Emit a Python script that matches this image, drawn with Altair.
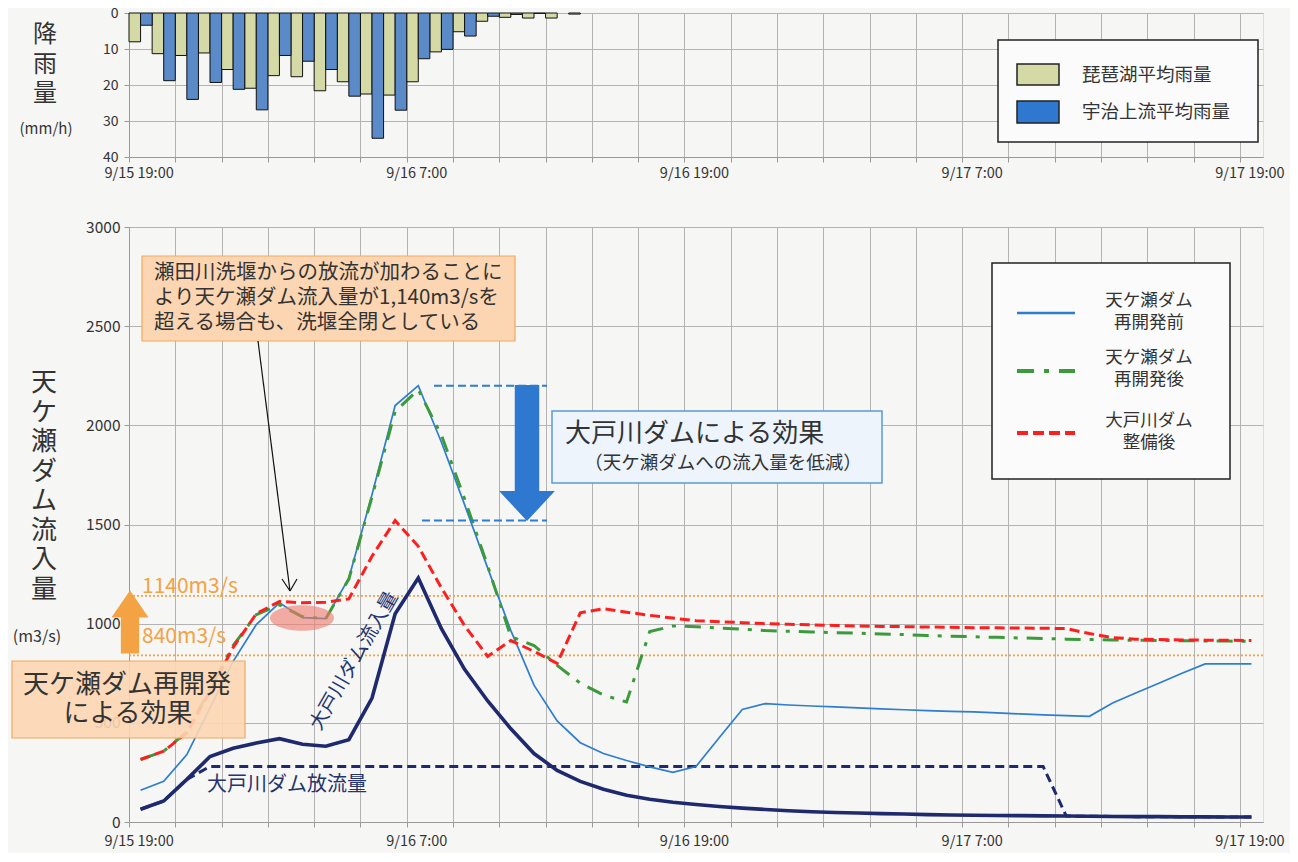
import altair as alt
import pandas as pd

FONT = "Noto Sans CJK JP"

# ---------------- data ----------------
# top: hourly rainfall (mm/h), hour 0 = 9/15 19:00
rain_hours = list(range(20))
biwa_rain = [8.0, 11.3, 11.8, 11.1, 15.7, 20.9, 17.4, 17.7, 21.6, 19.1,
             22.5, 22.8, 19.1, 10.8, 5.2, 2.3, 1.2, 1.4, 1.4, 0.3]
uji_rain = [3.4, 18.8, 24.0, 19.3, 21.2, 26.9, 11.8, 13.4, 15.7, 23.1,
            34.8, 27.0, 12.7, 10.1, 6.4, 0.9, 0.4, 0.1, 0.0, 0.0]

# bottom: inflow (m3/s), hourly from 9/15 19:00 to 9/17 19:00
hours = list(range(49))
before = [160, 205, 340, 575, 810, 995, 1105, 1030, 1025, 1230,
          1650, 2100, 2200, 1915, 1600, 1280, 965, 690, 510, 400,
          345, 310, 278, 250, 280, 425, 567, 597, 590, 585,
          580, 575, 570, 566, 562, 558, 555, 550, 545, 540,
          536, 533, 600, 650, 700, 750, 797, 797, 797]
after = [315, 357, 455, 670, 890, 1045, 1095, 1035, 1025, 1225,
         1640, 2070, 2180, 1950, 1630, 1290, 935, 890, 790, 700,
         640, 605, 960, 988, 985, 978, 972, 965, 962, 958,
         955, 952, 948, 945, 940, 937, 934, 931, 928, 925,
         922, 920, 918, 916, 915, 914, 913, 912, 911]
ohto = [315, 357, 450, 660, 880, 1050, 1112, 1105, 1108, 1125,
        1340, 1520, 1390, 1180, 990, 835, 915, 860, 800, 1055,
        1075, 1058, 1042, 1028, 1015, 1010, 1005, 1000, 997, 994,
        991, 988, 986, 985, 983, 982, 980, 979, 978, 977,
        975, 950, 930, 922, 920, 918, 917, 916, 915]
inflow = [64, 106, 215, 330, 372, 398, 420, 392, 382, 415,
          625, 1050, 1230, 975, 770, 610, 470, 345, 260, 205,
          165, 135, 115, 100, 88, 78, 70, 63, 57, 52,
          48, 45, 42, 40, 37, 35, 34, 33, 32, 31,
          30, 29, 28, 27, 27, 26, 26, 25, 25]
release = [64, 106, 215, 280, 280, 280, 280, 280, 280, 280,
           280, 280, 280, 280, 280, 280, 280, 280, 280, 280,
           280, 280, 280, 280, 280, 280, 280, 280, 280, 280,
           280, 280, 280, 280, 280, 280, 280, 280, 280, 280,
           30, 29, 28, 27, 27, 26, 26, 25, 25]

thresholds = [1140, 840]
effect_levels = [2200, 1520]

tick_hours = [0, 12, 24, 36, 48]
tick_labels = ["9/15 19:00", "9/16 7:00", "9/16 19:00", "9/17 7:00", "9/17 19:00"]
flow_ticks = [0, 500, 1000, 1500, 2000, 2500, 3000]
rain_ticks = [0, 10, 20, 30, 40]

# ---------------- helpers ----------------
W = 1134
HT = 144
HB = 595
half_hour_px = W / 49 / 2

dummy = pd.DataFrame({"d": [0]})
grid_vals = [2 * k - 0.5 for k in range(25)]
label_expr = " : ".join(
    [f"datum.value == {h - 0.5} ? '{t}'" for h, t in zip(tick_hours, tick_labels)]
) + " : ''"

xscale = alt.Scale(domain=[-0.5, 48.5], nice=False, zero=False)


def xaxis(pad):
    return alt.Axis(values=grid_vals, grid=True, gridColor="#b3b3b3", gridWidth=1,
                    labelExpr=label_expr, labelOffset=half_hour_px - 2, labelFlush=False,
                    labelOverlap=False, labelFontSize=14.5, labelColor="#333333",
                    labelPadding=pad, tickSize=5, tickColor="#999999",
                    domainColor="#999999", title=None)


def text_mark(txt, x, y, size, color="#333333", align="center", baseline="middle",
              angle=0, line_height=None):
    kw = dict(text=txt, align=align, baseline=baseline, fontSize=size,
              color=color, font=FONT)
    if angle:
        kw["angle"] = angle
    if line_height:
        kw["lineHeight"] = line_height
    return alt.Chart(dummy).mark_text(**kw).encode(x=alt.value(x), y=alt.value(y))


def rect_mark(x1, x2, y1, y2, fill, stroke=None, sw=1.0, opacity=1.0):
    kw = dict(fill=fill, fillOpacity=opacity)
    if stroke:
        kw.update(stroke=stroke, strokeWidth=sw)
    return alt.Chart(dummy).mark_rect(**kw).encode(
        x=alt.value(x1), x2=alt.value(x2), y=alt.value(y1), y2=alt.value(y2))


def seg(x1, y1, x2, y2, color, width=1.0, dash=None):
    kw = dict(color=color, strokeWidth=width)
    if dash:
        kw["strokeDash"] = dash
    return alt.Chart(dummy).mark_rule(**kw).encode(
        x=alt.value(x1), y=alt.value(y1), x2=alt.value(x2), y2=alt.value(y2))


def shape_mark(path, x, y, size, color, opacity=1.0):
    return alt.Chart(dummy).mark_point(shape=path, filled=True, color=color, size=size,
                                       opacity=opacity, strokeWidth=0).encode(
        x=alt.value(x), y=alt.value(y))


# ---------------- top chart (rainfall) ----------------
rain_df = pd.DataFrame({"h": rain_hours, "biwa": biwa_rain, "uji": uji_rain})
rain_df["b0"] = rain_df["h"] - 0.5
rain_df["b1"] = rain_df["h"]
rain_df["u0"] = rain_df["h"]
rain_df["u1"] = rain_df["h"] + 0.5

ytop_axis = alt.Axis(values=rain_ticks, grid=True, gridColor="#b3b3b3", tickSize=5,
                     tickColor="#999999", domainColor="#999999", labelFontSize=14,
                     labelColor="#333333", labelPadding=6, title=None)
ytop_scale = alt.Scale(domain=[0, 40], reverse=True, nice=False)

BIWA_COL = "#d5d9a6"
UJI_COL = "#5a8ac8"

biwa_bars = alt.Chart(rain_df).transform_filter("datum.biwa > 0").mark_rect(
    color=BIWA_COL, stroke="#111111", strokeWidth=1).encode(
    x=alt.X("b0:Q", scale=xscale, axis=xaxis(4)), x2="b1:Q",
    y=alt.Y("biwa:Q", scale=ytop_scale, axis=ytop_axis), y2=alt.datum(0))
uji_bars = alt.Chart(rain_df).transform_filter("datum.uji > 0").mark_rect(
    color=UJI_COL, stroke="#111111", strokeWidth=1).encode(
    x=alt.X("u0:Q", scale=xscale, axis=xaxis(4)), x2="u1:Q",
    y=alt.Y("uji:Q", scale=ytop_scale, axis=ytop_axis), y2=alt.datum(0))

top_layers = [
    biwa_bars, uji_bars,
    # legend
    rect_mark(869, 1129, 27, 129, "#fbfbfb", "#222222", 1.5),
    rect_mark(888, 930, 51, 72, BIWA_COL, "#222222", 1.5),
    rect_mark(888, 930, 88, 110, "#2f78cf", "#222222", 1.5),
    text_mark("琵琶湖平均雨量", 953, 62, 18.5, align="left"),
    text_mark("宇治上流平均雨量", 953, 99, 18.5, align="left"),
    # y title (first line position; following lines stack below)
    text_mark(["降", "雨", "量"], -84, 22, 24, line_height=29.5),
    text_mark("(mm/h)", -83, 116, 15),
]
top = alt.layer(*top_layers).properties(width=W, height=HT)

# ---------------- bottom chart (inflow) ----------------
def series_df(vals):
    return pd.DataFrame({"hour": hours, "value": vals})


xb = alt.X("hour:Q", scale=xscale, axis=xaxis(7))
yb = alt.Y("value:Q", scale=alt.Scale(domain=[0, 3000], nice=False),
           axis=alt.Axis(values=flow_ticks, format="d", grid=True, gridColor="#b3b3b3",
                         tickSize=5, tickColor="#999999", domainColor="#999999",
                         labelFontSize=15.5, labelColor="#333333", labelPadding=4,
                         title=None))

NAVY = "#1f2a6e"
BLUE = "#2e7dd0"
GREEN = "#3c9a3c"
RED = "#ff1e1e"
ORANGE = "#f3a244"
ORANGE_FILL = "#fcd6b2"
ORANGE_EDGE = "#f2a860"

thr_df = pd.DataFrame({"value": thresholds})
eff_df = pd.DataFrame({"value": effect_levels, "x1": [305, 293], "x2": [418, 418]})

thr_rules = alt.Chart(thr_df).mark_rule(color=ORANGE, strokeWidth=1.6,
                                        strokeDash=[2, 2]).encode(y=yb)

line_release = alt.Chart(series_df(release)).mark_line(
    color=NAVY, strokeWidth=3, strokeDash=[9, 5]).encode(x=xb, y=yb)
line_inflow = alt.Chart(series_df(inflow)).mark_line(
    color=NAVY, strokeWidth=3.6).encode(x=xb, y=yb)
line_before = alt.Chart(series_df(before)).mark_line(
    color=BLUE, strokeWidth=1.7).encode(x=xb, y=yb)
line_after = alt.Chart(series_df(after)).mark_line(
    color=GREEN, strokeWidth=3, strokeDash=[16, 9, 4, 9]).encode(x=xb, y=yb)
line_ohto = alt.Chart(series_df(ohto)).mark_line(
    color=RED, strokeWidth=3, strokeDash=[10, 5]).encode(x=xb, y=yb)

eff_rules = alt.Chart(eff_df).mark_rule(color=BLUE, strokeWidth=2,
                                        strokeDash=[8, 4]).encode(
    y=yb, x=alt.X("x1:Q", scale=None), x2="x2:Q")

DOWN_ARROW = "M -0.18 -1 L 0.18 -1 L 0.18 0.56 L 0.41 0.56 L 0 1 L -0.41 0.56 L -0.18 0.56 Z"
UP_ARROW = "M 0 -1 L 0.59 -0.14 L 0.29 -0.14 L 0.29 1 L -0.29 1 L -0.29 -0.14 L -0.59 -0.14 Z"
ELLIPSE = "M -1 0 A 1 0.4 0 1 0 1 0 A 1 0.4 0 1 0 -1 0 Z"

bottom_layers = [
    thr_rules,
    line_release, line_inflow, line_before, line_after, line_ohto,
    # Ohto dam effect
    eff_rules,
    shape_mark(DOWN_ARROW, 398, 226, 136 * 136, "#2f78cf"),
    rect_mark(423, 753, 184, 256, "#edf4fb", "#5a9bd5", 1.5),
    text_mark("大戸川ダムによる効果", 436, 207, 26, align="left"),
    text_mark("（天ケ瀬ダムへの流入量を低減）", 594, 236, 18.5),
    # callout
    rect_mark(13, 386, 29, 114, ORANGE_FILL, ORANGE_EDGE, 1.2),
    text_mark("瀬田川洗堰からの放流が加わることに", 25, 46, 20.5, align="left"),
    text_mark("より天ケ瀬ダム流入量が1,140m3/sを", 25, 71, 20.5, align="left"),
    text_mark("超える場合も、洗堰全閉としている", 25, 96, 20.5, align="left"),
    seg(129, 114, 161, 364, "#111111", 1.2),
    seg(153, 352, 161, 364, "#111111", 1.2),
    seg(168, 352, 161, 364, "#111111", 1.2),
    shape_mark(ELLIPSE, 173, 391, 64 * 64, "#f07a6a", 0.6),
    # redevelopment effect
    shape_mark(UP_ARROW, 1, 395, 63 * 63, ORANGE),
    text_mark("1140m3/s", 13, 360, 21, color=ORANGE, align="left"),
    text_mark("840m3/s", 13, 410, 21, color=ORANGE, align="left"),
    rect_mark(-117, 116, 434, 511, ORANGE_FILL, ORANGE_EDGE, 1.2, 0.9),
    text_mark("天ケ瀬ダム再開発", -2, 458, 26),
    text_mark("による効果", -1, 487, 26),
    # series labels
    text_mark("大戸川ダム流入量", 225, 434, 19.5, color="#26346e", angle=300),
    text_mark("大戸川ダム放流量", 158, 558, 20, color="#26346e"),
    # legend
    rect_mark(863, 1101, 36, 252, "#fbfbfb", "#222222", 1.5),
    seg(888, 86, 946, 86, BLUE, 2.5),
    seg(888, 144, 946, 144, GREEN, 4, [17, 10, 5, 10]),
    seg(888, 206, 946, 206, RED, 4, [11, 5]),
    text_mark(["天ケ瀬ダム", "再開発前"], 1020, 74, 17.5, line_height=22),
    text_mark(["天ケ瀬ダム", "再開発後"], 1020, 131, 17.5, line_height=22),
    text_mark(["大戸川ダム", "整備後"], 1020, 194, 17.5, line_height=22),
    # y title (first line position; following lines stack below)
    text_mark(["天", "ケ", "瀬", "ダ", "ム", "流", "入", "量"], -85, 156, 26,
              line_height=29.5),
    text_mark("(m3/s)", -92, 410, 16),
]
bottom = alt.layer(*bottom_layers).properties(width=W, height=HB)

chart = alt.vconcat(top, bottom, spacing=39).properties(
    padding={"left": 2, "top": -3, "right": 5, "bottom": 5},
    background="#f6f6f4",
).configure_view(strokeWidth=0).configure(font=FONT)

chart.save("out.html", embed_options={"renderer": "svg", "actions": False})
